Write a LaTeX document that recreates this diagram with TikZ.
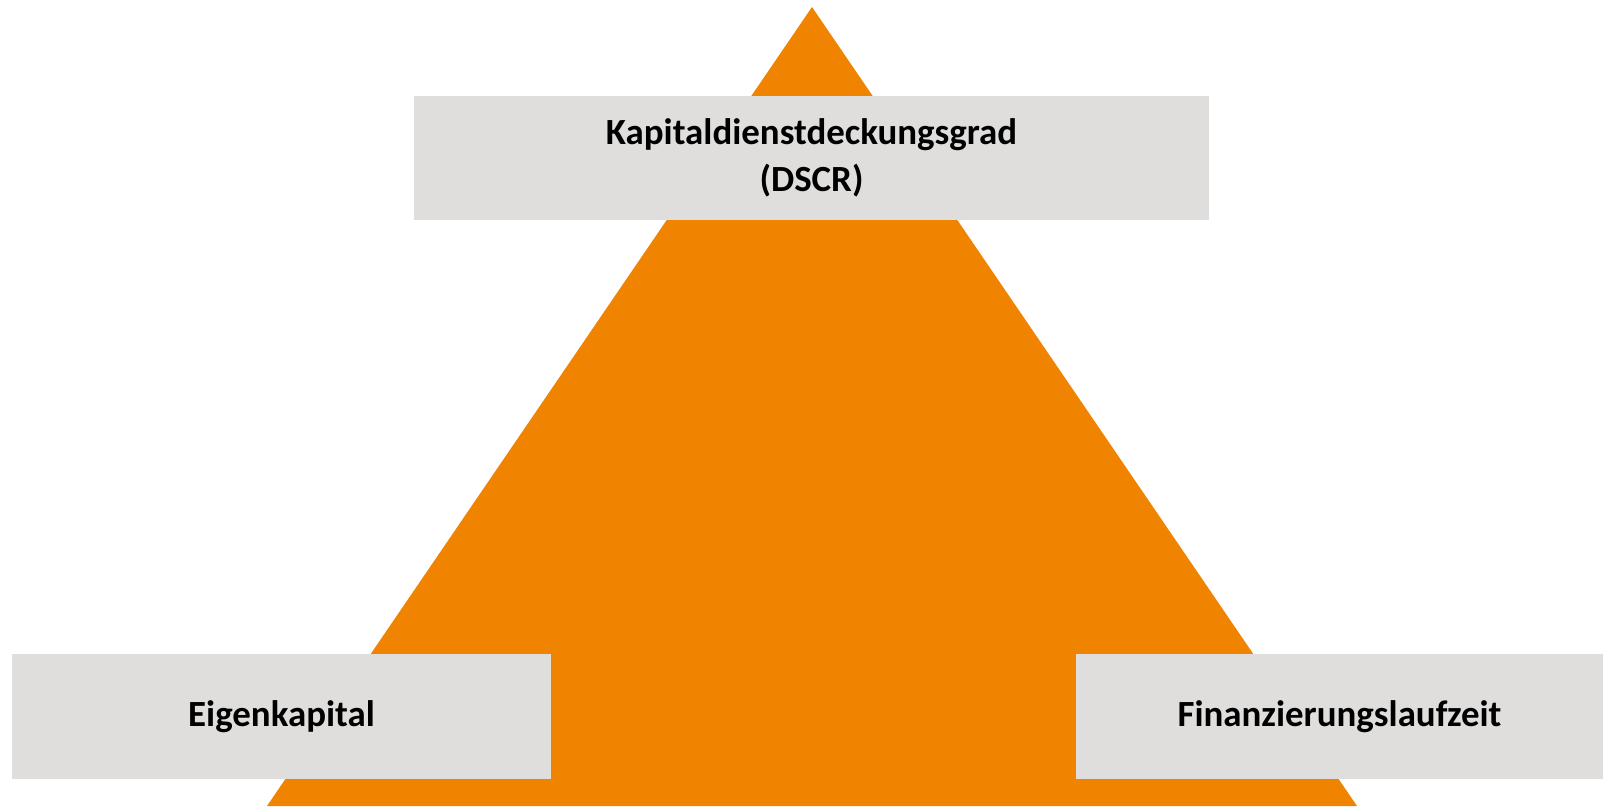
\documentclass[tikz,border=0pt]{standalone}
\usepackage{fontspec}
\setmainfont{Carlito}
\definecolor{pyramidorange}{RGB}{240,131,0}
\definecolor{boxgray}{RGB}{223,222,221}

\begin{document}
\begin{tikzpicture}[x=0.02cm, y=-0.02cm,
  factor/.style={fill=boxgray, minimum height=2.49cm, align=center, inner sep=0pt,
    font=\fontsize{21}{27}\selectfont\bfseries}]
  \useasboundingbox (0,0) rectangle (1603,806);
  \fill[pyramidorange] (812,7) -- (267,806) -- (1357,806) -- cycle;
  \node[factor, minimum width=15.9cm] (dscr) at (811.5,158) {Kapitaldienstdeckungsgrad\\(DSCR)};
  \node[factor, minimum width=10.78cm] (equity) at (281.5,716.5) {Eigenkapital};
  \node[factor, minimum width=10.54cm] (tenor) at (1339.5,716.5) {Finanzierungslaufzeit};
\end{tikzpicture}
\end{document}
